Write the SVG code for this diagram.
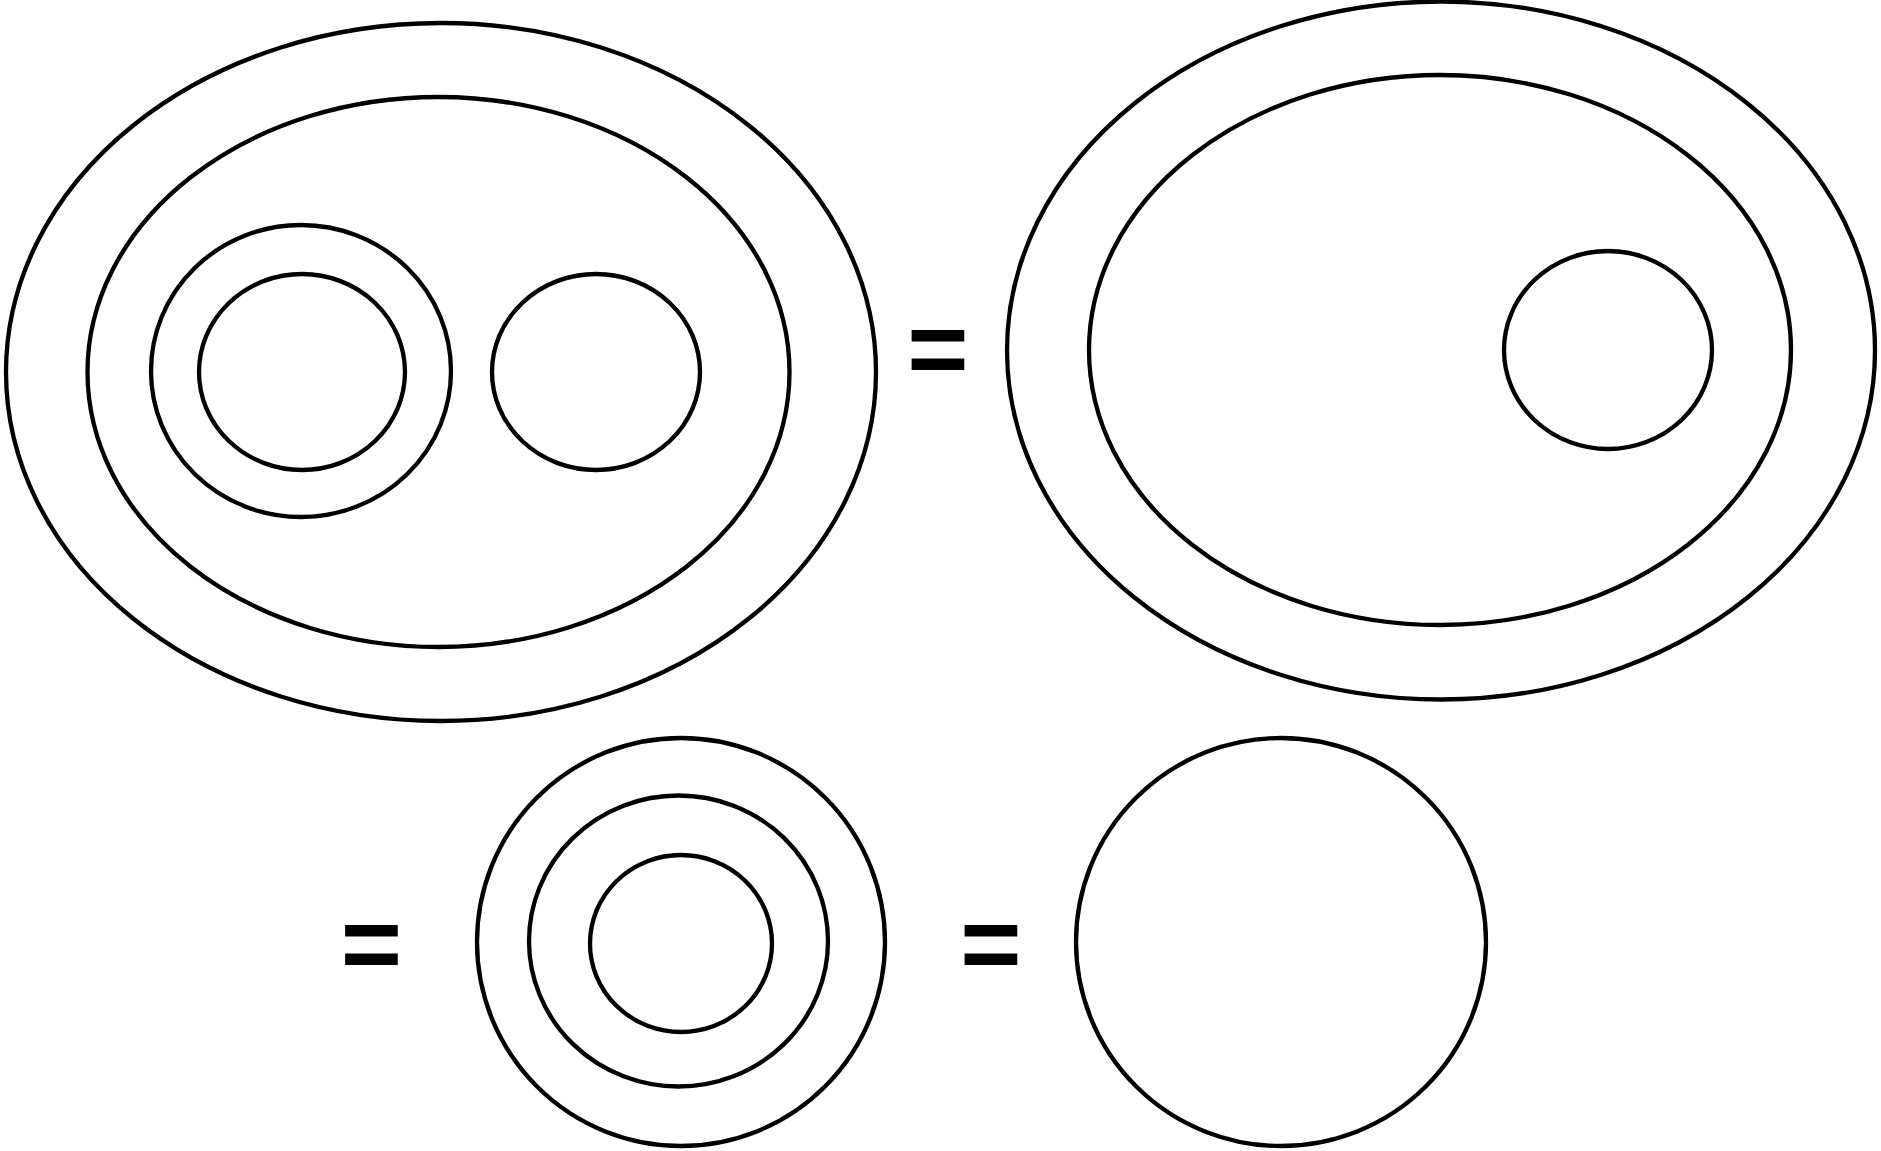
<svg xmlns="http://www.w3.org/2000/svg" width="1881" height="1151" viewBox="0 0 1881 1151">
<style>
.c{fill:none;stroke:#000;stroke-width:4.3}
.eq{font-family:"Liberation Sans",Arial,sans-serif;font-weight:bold;font-size:105px;fill:#000}
</style>
<rect width="1881" height="1151" fill="#fff"/>
<g id="lhs">
<ellipse class="c" cx="441" cy="372" rx="435" ry="349"/>
<ellipse class="c" cx="438.5" cy="372" rx="351" ry="275"/>
<ellipse class="c" cx="301" cy="371" rx="150" ry="146"/>
<ellipse class="c" cx="302" cy="372" rx="103" ry="98"/>
<ellipse class="c" cx="596" cy="372" rx="104" ry="98"/>
</g>
<g id="rhs1">
<ellipse class="c" cx="1441" cy="350.5" rx="434" ry="349"/>
<ellipse class="c" cx="1440" cy="350" rx="351" ry="275"/>
<ellipse class="c" cx="1608" cy="350" rx="104" ry="99"/>
</g>
<g id="rhs2">
<ellipse class="c" cx="681" cy="942" rx="204" ry="204"/>
<ellipse class="c" cx="678.5" cy="941" rx="149.5" ry="145.5"/>
<ellipse class="c" cx="681" cy="943.5" rx="91" ry="88.5"/>
</g>
<g id="rhs3">
<ellipse class="c" cx="1281" cy="942" rx="205" ry="204"/>
</g>
<g id="eqs">
<text class="eq" x="938" y="385" text-anchor="middle">=</text>
<text class="eq" x="371.5" y="980" text-anchor="middle">=</text>
<text class="eq" x="991" y="980" text-anchor="middle">=</text>
</g>
</svg>
